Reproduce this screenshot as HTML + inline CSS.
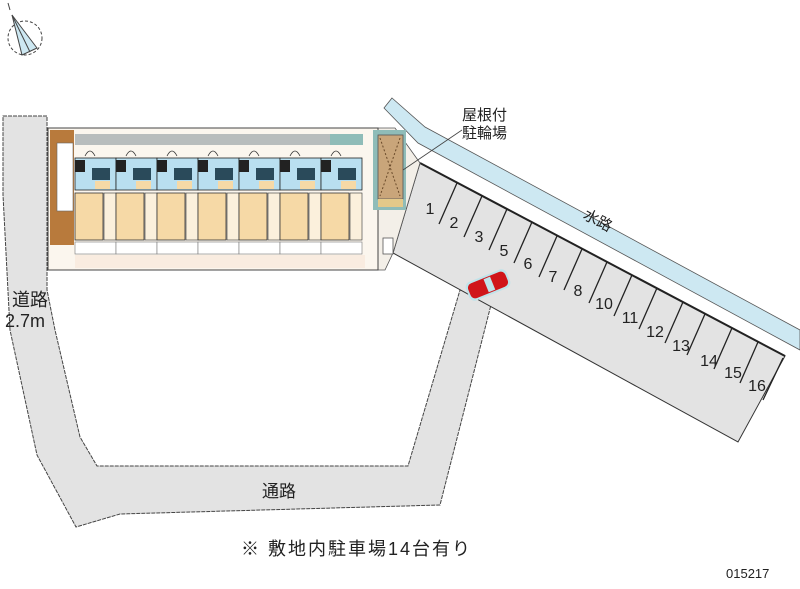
<!DOCTYPE html>
<html><head><meta charset="utf-8"><style>
html,body{margin:0;padding:0;background:#fff;}
svg{display:block;}
text{font-family:"Liberation Sans","Noto Sans CJK JP",sans-serif;fill:#222;}
</style></head><body>
<svg width="800" height="589" viewBox="0 0 800 589" xmlns="http://www.w3.org/2000/svg">
<!-- compass -->
<g stroke="#444" stroke-width="1" fill="none">
<circle cx="25" cy="38" r="17" stroke-dasharray="3,2"/>
<polygon points="12,15 22,55 37,48" fill="#cde8f2"/>
<line x1="12" y1="15" x2="30" y2="52"/>
<line x1="8" y1="3" x2="10" y2="10"/>
</g>
<!-- roads -->
<path d="M3,116 L47,116 L47,290 L55,330 L80,437 L97,466 L408,466 L460,290 L493,297 L440,505 L120,514 L76,527 L37,455 L10,330 L3,195 Z" fill="#e3e3e3" stroke="#444" stroke-width="1" stroke-dasharray="4,1"/>
<!-- water channel -->
<path d="M392,98 L425,127 L800,330 L800,350 L418,143 L384,108 Z" fill="#cde8f2" stroke="#555" stroke-width="0.8"/>
<!-- parking lot -->
<path d="M420,163 L785,356 L738,442 L393,253 Z" fill="#e3e3e3" stroke="#333" stroke-width="1"/>
<line x1="420" y1="163" x2="785" y2="356" stroke="#222" stroke-width="2"/>
<!-- lot area left beige -->
<path d="M365,128 L395,128 L420,163 L393,253 L385,270 L365,270 Z" fill="#f3efe8" stroke="#555" stroke-width="0.8"/>
<!-- building -->
<rect x="48" y="128" width="330" height="142" fill="#fbf6ee" stroke="#444" stroke-width="1"/>
<rect x="50" y="130" width="24" height="115" fill="#b87a3c"/>
<rect x="57" y="143" width="16" height="68" fill="#fff" stroke="#666" stroke-width="0.6"/>
<rect x="75" y="134" width="255" height="11" fill="#b8bdbd"/>
<rect x="330" y="134" width="33" height="11" fill="#8fbcb8"/>
<g id="u">
<rect x="75" y="158" width="41" height="32" fill="#b9dff0" stroke="#222" stroke-width="0.8"/>
<rect x="75" y="160" width="10" height="12" fill="#222"/>
<rect x="92" y="168" width="18" height="12" fill="#2a4a5a"/>
<rect x="95" y="181" width="15" height="8" fill="#f6d9a6"/>
<rect x="75" y="193" width="28" height="47" fill="#f6d9a6" stroke="#333" stroke-width="0.8"/>
<rect x="104" y="193" width="12" height="47" fill="#fbf0dc" stroke="#333" stroke-width="0.6"/>
<rect x="75" y="242" width="41" height="12" fill="#fff" stroke="#777" stroke-width="0.6"/>
<path d="M85,156 q5,-10 10,0" fill="none" stroke="#333" stroke-width="0.8"/>
</g>
<use href="#u" x="41"/><use href="#u" x="82"/><use href="#u" x="123"/><use href="#u" x="164"/><use href="#u" x="205"/><use href="#u" x="246"/>
<rect x="75" y="255" width="290" height="13" fill="#f9ece0"/>
<!-- bike shed -->
<rect x="373" y="130" width="33" height="80" fill="#8fbcb8"/>
<rect x="378" y="135" width="25" height="64" fill="#c9a57a" stroke="#555" stroke-width="0.8"/>
<path d="M380,138 L400,196 M400,138 L380,196" stroke="#6a4a2a" stroke-dasharray="2,2"/>
<rect x="378" y="199" width="25" height="8" fill="#e3c98a"/>
<rect x="383" y="238" width="10" height="16" fill="#fff" stroke="#555" stroke-width="0.8"/>
<line x1="403" y1="170" x2="462" y2="130" stroke="#444" stroke-width="0.8"/>
<!-- car -->
<g transform="rotate(-22 488 285)">
<rect x="466" y="275" width="44" height="20" rx="6" fill="#bfe3ea"/>
<rect x="468" y="277" width="40" height="16" rx="5" fill="#d0151a"/>
<rect x="486" y="278" width="7" height="14" fill="#bfe3ea"/>
</g>
<!-- stall dividers -->
<g stroke="#222" stroke-width="1.3">
<line x1="457" y1="183" x2="439" y2="224"/>
<line x1="482" y1="196" x2="464" y2="237"/>
<line x1="507" y1="209" x2="489" y2="250"/>
<line x1="532" y1="222" x2="514" y2="263"/>
<line x1="557" y1="236" x2="539" y2="277"/>
<line x1="582" y1="249" x2="564" y2="290"/>
<line x1="607" y1="262" x2="589" y2="303"/>
<line x1="632" y1="275" x2="614" y2="316"/>
<line x1="657" y1="288" x2="639" y2="329"/>
<line x1="683" y1="302" x2="665" y2="343"/>
<line x1="705" y1="314" x2="687" y2="355"/>
<line x1="732" y1="328" x2="714" y2="369"/>
<line x1="758" y1="342" x2="740" y2="383"/>
<line x1="783" y1="358" x2="763" y2="400"/>
</g>
<g font-size="16" text-anchor="middle">
<text x="430" y="214">1</text>
<text x="454" y="228">2</text>
<text x="479" y="242">3</text>
<text x="504" y="256">5</text>
<text x="528" y="269">6</text>
<text x="553" y="282">7</text>
<text x="578" y="296">8</text>
<text x="604" y="309">10</text>
<text x="630" y="323">11</text>
<text x="655" y="337">12</text>
<text x="681" y="351">13</text>
<text x="709" y="366">14</text>
<text x="733" y="378">15</text>
<text x="757" y="391">16</text>
</g>
<text x="583" y="225" font-size="15" transform="rotate(28 597 220)">水路</text>
<text x="462" y="120" font-size="15">屋根付</text>
<text x="462" y="138" font-size="15">駐輪場</text>
<text x="12" y="306" font-size="18">道路</text>
<text x="5" y="327" font-size="18">2.7m</text>
<text x="262" y="497" font-size="17">通路</text>
<text x="241" y="555" font-size="18" letter-spacing="2">※ 敷地内駐車場14台有り</text>
<text x="726" y="578" font-size="13">015217</text>
</svg>
</body></html>
